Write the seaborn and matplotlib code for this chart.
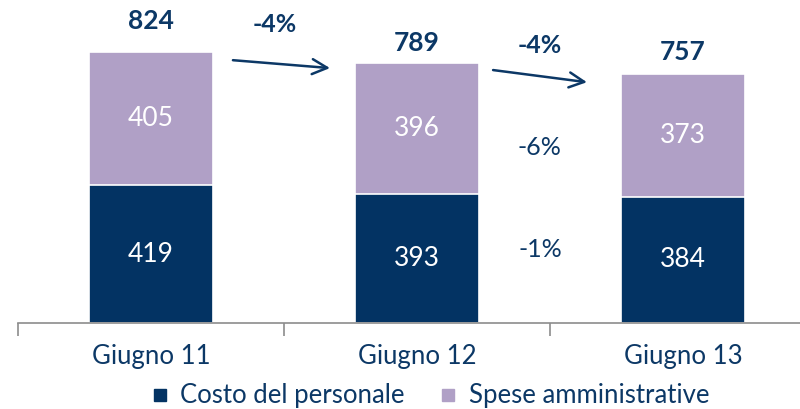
import matplotlib
matplotlib.use("Agg")
import matplotlib.pyplot as plt
import seaborn as sns
import pandas as pd
from matplotlib.lines import Line2D

categories = ["Giugno 11", "Giugno 12", "Giugno 13"]
personale = [419, 393, 384]
amministrative = [405, 396, 373]
totals = [824, 789, 757]
yoy_labels = ["-4%", "-4%"]
component_changes = ["-6%", "-1%"]
series_names = ["Costo del personale", "Spese amministrative"]

NAVY = "#033363"
LAV = "#b0a0c6"
TXT = "#0c3866"

sns.set_theme(style="white")
plt.rcParams["font.family"] = ["Lato", "DejaVu Sans"]

df = pd.DataFrame({"cat": categories, "pers": personale, "amm": amministrative, "tot": totals})

fig = plt.figure(figsize=(8, 4.09), dpi=100)
ax = fig.add_axes([18 / 800, 86 / 409, 798 / 800, 323 / 409])

sns.barplot(data=df, x="cat", y="tot", color=LAV, width=0.466, saturation=1,
            edgecolor="white", linewidth=1.2, ax=ax)
sns.barplot(data=df, x="cat", y="pers", color=NAVY, width=0.466, saturation=1,
            edgecolor="white", linewidth=1.2, ax=ax)

ax.set_ylim(0, 982)
ax.set_xlim(-0.5, 2.5)
ax.set_xlabel("")
ax.set_ylabel("")
ax.set_yticks([])
for s in ["top", "right", "left"]:
    ax.spines[s].set_visible(False)
ax.spines["bottom"].set_color("#8c8c8c")
ax.spines["bottom"].set_linewidth(1.2)
ax.spines["bottom"].set_clip_on(False)

ax.set_xticks(range(len(categories)))
ax.set_xticklabels(categories, fontsize=18.5, color=TXT)
ax.tick_params(axis="x", which="major", length=0, pad=15)
ax.set_xticks([-0.5, 0.5, 1.5, 2.5], minor=True)
ax.tick_params(axis="x", which="minor", length=9, width=1.2, color="#8c8c8c", bottom=True)

# segment labels
for i in range(len(categories)):
    ax.text(i, personale[i] / 2, str(personale[i]), ha="center", va="center",
            color="white", fontsize=19)
    ax.text(i, personale[i] + amministrative[i] / 2, str(amministrative[i]),
            ha="center", va="center", color="white", fontsize=19)

total_offsets = [22, 14.5, 16]
for i in range(len(categories)):
    ax.annotate(str(totals[i]), (i, totals[i]), xytext=(0, total_offsets[i]),
                textcoords="offset points", ha="center", va="center",
                fontsize=19, fontweight="bold", color=TXT)

# arrows between bars
arrow_starts = [(0.308, 799), (1.286, 769)]
arrow_ends = [(0.673, 775), (1.639, 732)]
yoy_pos = [(0.466, 906), (1.462, 845)]
for s, e, p, lab in zip(arrow_starts, arrow_ends, yoy_pos, yoy_labels):
    ax.annotate("", xy=e, xytext=s,
                arrowprops=dict(arrowstyle="->,head_length=0.9,head_width=0.45",
                                color=TXT, lw=1.8, shrinkA=0, shrinkB=0))
    ax.text(p[0], p[1], lab, ha="center", va="center", fontsize=18,
            fontweight="bold", color=TXT)

ax.text(1.462, 535, component_changes[0], ha="center", va="center", fontsize=18, color=TXT)
ax.text(1.462, 222, component_changes[1], ha="center", va="center", fontsize=18, color=TXT)

handles = [Line2D([], [], marker="s", linestyle="", color=NAVY, markersize=9),
           Line2D([], [], marker="s", linestyle="", color=LAV, markersize=9)]
leg = fig.legend(handles, series_names, loc="center", bbox_to_anchor=(0.535, 13 / 409),
                 ncol=2, frameon=False, fontsize=18.5, handletextpad=0.3,
                 columnspacing=1.2, handlelength=1.0)
for t in leg.get_texts():
    t.set_color(TXT)

fig.savefig("out.png", dpi=100)
